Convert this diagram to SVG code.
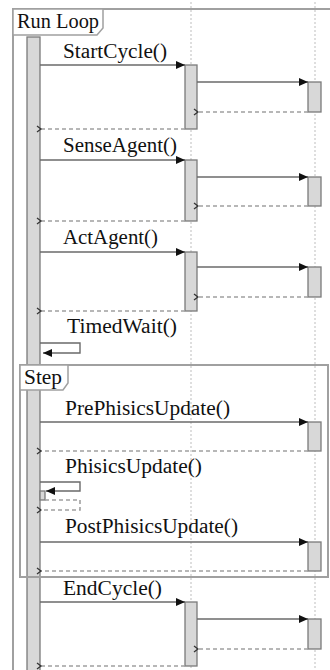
<svg xmlns="http://www.w3.org/2000/svg" width="330" height="670" viewBox="0 0 330 670">
<style>
text{font-family:"Liberation Serif","Times New Roman",serif;font-size:20px;fill:#111}
.frame{fill:none;stroke:#a0a0a0;stroke-width:2}
.lab{fill:#fff;stroke:#a0a0a0;stroke-width:1.5}
.life{stroke:#c8c8c8;stroke-width:1.2;stroke-dasharray:2 2;fill:none}
.act{fill:#d8d8d8;stroke:#7a7a7a;stroke-width:1.3}
.msg{stroke:#6a6a6a;stroke-width:1.4;fill:none;marker-end:url(#fa)}
.ret{stroke:#a0a0a0;stroke-width:1.6;stroke-dasharray:4 3;fill:none;marker-end:url(#oa)}
</style>
<defs>
<marker id="fa" markerUnits="userSpaceOnUse" markerWidth="10" markerHeight="10" refX="9" refY="5" orient="auto">
<path d="M0,1 L9,5 L0,9 z" fill="#111"/>
</marker>
<marker id="oa" markerUnits="userSpaceOnUse" markerWidth="8" markerHeight="8" refX="1" refY="4" orient="auto">
<path d="M5,1 L1,4 L5,7" fill="none" stroke="#333" stroke-width="1.3"/>
</marker>
</defs>
<rect width="330" height="670" fill="#fff"/>
<g id="lifelines">
<line class="life" x1="191" y1="2" x2="191" y2="670"/>
<line class="life" x1="315" y1="2" x2="315" y2="670"/>
</g>
<g id="frame-runloop">
<rect class="frame" x="13" y="9" width="330" height="680"/>
<path class="lab" d="M13,9 H103 V28 L97,35 H13 Z"/>
<text x="17" y="28" textLength="82" lengthAdjust="spacingAndGlyphs">Run Loop</text>
</g>
<g id="main-activation">
<rect class="act" x="27" y="37" width="13" height="640"/>
</g>
<g id="frame-step">
<rect class="frame" x="20" y="365" width="308" height="212"/>
<path class="lab" d="M20,365 H68 V383 L63,390 H20 Z"/>
<text x="24" y="384" textLength="38" lengthAdjust="spacingAndGlyphs">Step</text>
</g>
<g id="activations">
<rect class="act" x="185" y="65" width="12" height="64"/>
<rect class="act" x="308" y="82" width="13" height="30"/>
<rect class="act" x="185" y="160" width="12" height="61"/>
<rect class="act" x="308" y="177" width="13" height="29"/>
<rect class="act" x="185" y="252" width="12" height="59"/>
<rect class="act" x="308" y="267" width="13" height="30"/>
<rect class="act" x="308" y="422" width="13" height="29"/>
<rect class="act" x="40" y="491" width="5" height="9"/>
<rect class="act" x="308" y="542" width="13" height="29"/>
<rect class="act" x="185" y="602" width="12" height="64"/>
<rect class="act" x="308" y="619" width="13" height="30"/>
</g>
<g id="connectors">
<line class="msg" x1="40" y1="65" x2="185" y2="65"/>
<line class="msg" x1="197" y1="82" x2="308" y2="82"/>
<line class="ret" x1="308" y1="112" x2="198" y2="112"/>
<line class="ret" x1="185" y1="129" x2="41" y2="129"/>
<line class="msg" x1="40" y1="160" x2="185" y2="160"/>
<line class="msg" x1="197" y1="177" x2="308" y2="177"/>
<line class="ret" x1="308" y1="206" x2="198" y2="206"/>
<line class="ret" x1="185" y1="221" x2="41" y2="221"/>
<line class="msg" x1="40" y1="252" x2="185" y2="252"/>
<line class="msg" x1="197" y1="267" x2="308" y2="267"/>
<line class="ret" x1="308" y1="297" x2="198" y2="297"/>
<line class="ret" x1="185" y1="311" x2="41" y2="311"/>
<path class="msg" d="M40,343 H80 V353 H43"/>
<line class="msg" x1="40" y1="422" x2="308" y2="422"/>
<line class="ret" x1="308" y1="451" x2="41" y2="451"/>
<path class="msg" d="M40,482 H80 V491 H46"/>
<path class="ret" d="M45,500 H80 V510 H41"/>
<line class="msg" x1="40" y1="542" x2="308" y2="542"/>
<line class="ret" x1="308" y1="571" x2="41" y2="571"/>
<line class="msg" x1="40" y1="602" x2="185" y2="602"/>
<line class="msg" x1="197" y1="619" x2="308" y2="619"/>
<line class="ret" x1="308" y1="649" x2="198" y2="649"/>
<line class="ret" x1="185" y1="666" x2="41" y2="666"/>
</g>
<g id="labels">
<text x="63" y="58" textLength="104" lengthAdjust="spacingAndGlyphs">StartCycle()</text>
<text x="63" y="152" textLength="114" lengthAdjust="spacingAndGlyphs">SenseAgent()</text>
<text x="63" y="244" textLength="95" lengthAdjust="spacingAndGlyphs">ActAgent()</text>
<text x="67" y="333" textLength="110" lengthAdjust="spacingAndGlyphs">TimedWait()</text>
<text x="65" y="415" textLength="165" lengthAdjust="spacingAndGlyphs">PrePhisicsUpdate()</text>
<text x="65" y="473" textLength="137" lengthAdjust="spacingAndGlyphs">PhisicsUpdate()</text>
<text x="65" y="533" textLength="173" lengthAdjust="spacingAndGlyphs">PostPhisicsUpdate()</text>
<text x="63" y="595" textLength="99" lengthAdjust="spacingAndGlyphs">EndCycle()</text>
</g>
</svg>
